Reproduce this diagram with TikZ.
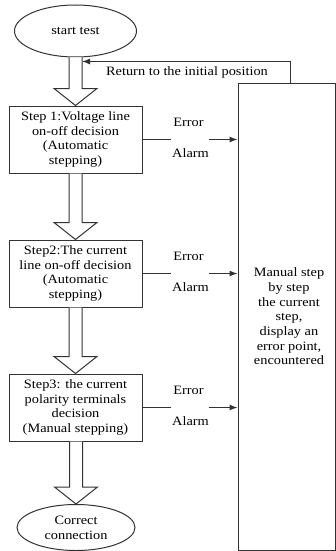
\documentclass[tikz,border=0pt]{standalone}
\usepackage{fontspec}
\setmainfont{Liberation Serif}[FakeStretch=1.12]
\usetikzlibrary{shapes.geometric,arrows.meta,calc}
\tikzset{
  ln/.style={draw=black!80, line width=1pt},
  oval/.style={ellipse, ln, inner sep=0pt, align=center},
  stepbox/.style={rectangle, ln, minimum width=133pt, minimum height=67pt, inner sep=0pt, align=center},
  fat/.style={ln, fill=white, line join=miter},
  arr/.style={ln, -{Latex[length=8pt,width=6pt]}},
  lbl/.style={inner sep=0pt, align=center},
}
\newcommand{\fatarrow}[2]{%
  \draw[fat] let \p1=(#1), \p2=(#2) in
    (\x2-6.5pt,\y1) -- (\x2-6.5pt,\y2+17pt) -- (\x2-21.5pt,\y2+17pt) -- (\x2,\y2)
    -- (\x2+21.5pt,\y2+17pt) -- (\x2+6.5pt,\y2+17pt) -- (\x2+6.5pt,\y1);}
\begin{document}
\begin{tikzpicture}[x=1pt,y=-1pt,font=\fontsize{12.8}{14.7}\selectfont]
\useasboundingbox (0,0) rectangle (336,551);
\node[oval, minimum width=122pt, minimum height=52pt] (start) at (75.5,31) {start test};
\node[stepbox] (s1) at (75.5,139.5) {Step 1:Voltage line\\on-off decision\\(Automatic\\stepping)};
\node[stepbox] (s2) at (75.5,273.5) {Step2:The current\\line on-off decision\\(Automatic\\stepping)};
\node[stepbox] (s3) at (75.5,407.5) {Step3: the current\\polarity terminals\\decision\\(Manual stepping)};
\node[oval, minimum width=118pt, minimum height=46pt] (end) at (76,527.5) {Correct\\connection};
\node[rectangle, ln, minimum width=97pt, minimum height=467pt, inner sep=0pt] (man) at (286.5,316.5) {};
\node[lbl] (mantext) at (289,316.5) {Manual step\\by step\\the current\\step,\\display an\\error point,\\encountered};

\fatarrow{start.south}{s1.north}
\fatarrow{s1.south}{s2.north}
\fatarrow{s2.south}{s3.north}
\fatarrow{s3.south}{end.north}

% return arrow
\coordinate (r0) at ($(man.north west)+(53,0)$);
\coordinate (r1) at ($(r0)+(0,-21)$);
\coordinate (r2) at ($(start.south)+(6.5,31)$);
\draw[arr] (r0) -- (r1) -- (r1 -| r2);
\node[lbl] (ret) at (187,72) {Return to the initial position};

% error arrows
\foreach \s in {s1,s2,s3}{
  \coordinate (\s a) at ($(\s.east)+(28,0)$);
  \coordinate (\s b) at ($(\s.east)+(66,0)$);
  \draw[ln] (\s.east) -- (\s a);
  \draw[arr] (\s b) -- (\s b -| man.west);
  \node[lbl] at ($(\s.east)+(46,-17)$) {Error};
  \node[lbl] at ($(\s.east)+(48,14)$) {Alarm};
}
\end{tikzpicture}
\end{document}
